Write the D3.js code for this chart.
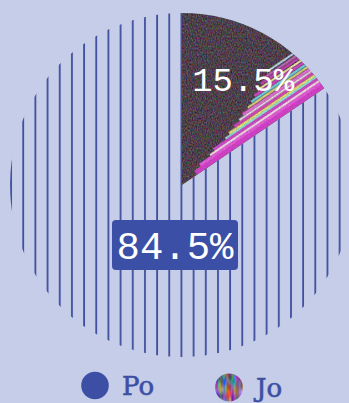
<!DOCTYPE html>
<html>
<head>
<meta charset="utf-8">
<script src="https://cdn.jsdelivr.net/npm/d3@7/dist/d3.min.js"></script>
<style>
  html, body { margin: 0; padding: 0; background: #c5cde8; }
  svg { display: block; }
</style>
</head>
<body>
<svg id="chart" width="349" height="403"></svg>
<script>
// Share of each group
const categories = ["Po", "Jo"];
const values = [84.5, 15.5];
const valueLabels = ["84.5%", "15.5%"];

const W = 349, H = 403;
const cx = 182, cy = 185, radius = 172;
const bg = "#c5cde8";
const blue = "#3c4fa4";

const svg = d3.select("#chart");
svg.append("rect").attr("width", W).attr("height", H).attr("fill", bg);

const defs = svg.append("defs");

// Vertical hatch for the large slice
const hatch = defs.append("pattern")
  .attr("id", "hatch")
  .attr("patternUnits", "userSpaceOnUse")
  .attr("width", 12.17).attr("height", 20)
  .attr("x", cx - 1);
hatch.append("rect").attr("width", 12.17).attr("height", 20).attr("fill", bg);
hatch.append("rect").attr("x", 0.1).attr("width", 1.8).attr("height", 20).attr("fill", "#3f4e9e");

// Grainy dark texture
const grain = defs.append("filter").attr("id", "grain")
  .attr("color-interpolation-filters", "sRGB")
  .attr("x", 0).attr("y", 0).attr("width", 1).attr("height", 1);
grain.append("feTurbulence").attr("type", "fractalNoise")
  .attr("baseFrequency", "0.8 0.5").attr("numOctaves", 2).attr("seed", 4);
grain.append("feColorMatrix").attr("type", "matrix")
  .attr("values", "0.55 0 0 0 0.03  0 0.5 0 0 0.0  0 0 0.55 0 0.02  0 0 0 0 1");

// Light speckle over the bright streaks
const speck = defs.append("filter").attr("id", "speck")
  .attr("color-interpolation-filters", "sRGB");
speck.append("feTurbulence").attr("type", "fractalNoise")
  .attr("baseFrequency", "0.9").attr("numOctaves", 1).attr("seed", 2).attr("result", "n");
speck.append("feColorMatrix").attr("in", "n").attr("type", "matrix")
  .attr("values", "0 0 0 0 0  0 0 0 0 0  0 0 0 0 0  -0.8 0 0 0 1.25").attr("result", "m");
speck.append("feComposite").attr("in", "SourceGraphic").attr("in2", "m").attr("operator", "in");

// Colourful streaky texture for the legend swatch
const swirl = defs.append("filter").attr("id", "swirl")
  .attr("color-interpolation-filters", "sRGB")
  .attr("x", 0).attr("y", 0).attr("width", 1).attr("height", 1);
swirl.append("feTurbulence").attr("type", "fractalNoise")
  .attr("baseFrequency", "0.22 0.07").attr("numOctaves", 2).attr("seed", 7);
swirl.append("feColorMatrix").attr("type", "matrix")
  .attr("values", "1.4 0 0 0 -0.2  0 1.3 0 0 -0.22  0 0 1.4 0 -0.15  0 0 0 0 1");

const pie = d3.pie().sortValues((a, b) => a - b).value(d => d.value);
const data = categories.map((c, i) => ({ name: c, value: values[i], label: valueLabels[i] }));
const arcs = pie(data);
const arc = d3.arc().innerRadius(0).outerRadius(radius);

const po = arcs.find(a => a.data.name === "Po");
const jo = arcs.find(a => a.data.name === "Jo");

// Po slice
const g = svg.append("g").attr("transform", `translate(${cx},${cy})`);
g.append("path").attr("d", arc(po)).attr("fill", "url(#hatch)");

// Jo slice: grainy base plus bright streaks along its trailing edge
defs.append("clipPath").attr("id", "joClip")
  .append("path").attr("d", arc(jo)).attr("transform", `translate(${cx},${cy})`);

const jg = svg.append("g").attr("clip-path", "url(#joClip)");
jg.append("rect").attr("x", cx - 5).attr("y", cy - radius - 5)
  .attr("width", radius + 10).attr("height", radius + 10)
  .attr("filter", "url(#grain)");

// In this frame the slice's trailing edge points straight up and the slice lies to the left
const sg = jg.append("g")
  .attr("transform", `translate(${cx},${cy}) rotate(${jo.endAngle * 180 / Math.PI})`);
const streaks = [
  { off: 0, w: 5, c: "#e23fd6", from: 18 },
  { off: 5, w: 3, c: "#f25fe6", from: 26 },
  { off: 8, w: 2, c: "#fde8f0", from: 40 },
  { off: 10, w: 3, c: "#d84ad0", from: 46 },
  { off: 13, w: 2, c: "#8ff0e0", from: 62 },
  { off: 15, w: 2.5, c: "#f5ef70", from: 68 },
  { off: 17.5, w: 3, c: "#e040c8", from: 76 },
  { off: 20.5, w: 2, c: "#ffffff", from: 84 },
  { off: 22.5, w: 3, c: "#f070e0", from: 90 },
  { off: 26, w: 2, c: "#e8e070", from: 98 },
  { off: 28.5, w: 2.5, c: "#70e0e8", from: 104 },
  { off: 31.5, w: 3, c: "#e048d0", from: 110 },
  { off: 35, w: 2, c: "#f7f0a8", from: 116 },
  { off: 38, w: 2.5, c: "#d040c0", from: 122 },
  { off: 41.5, w: 2, c: "#e070d8", from: 128 },
  { off: 45, w: 2, c: "#c0e0f0", from: 134 }
];
sg.append("g").attr("filter", "url(#speck)")
  .selectAll("rect").data(streaks).join("rect")
  .attr("x", d => -d.off - d.w)
  .attr("y", -(radius + 20))
  .attr("width", d => d.w)
  .attr("height", d => radius + 20 - d.from)
  .attr("fill", d => d.c);

// Value labels, drawn above both slices
const lg = svg.append("g").attr("transform", `translate(${cx},${cy})`);
const labelArc = d3.arc().innerRadius(120).outerRadius(120);
const [jx, jy] = labelArc.centroid(jo);
lg.append("text")
  .attr("x", jx + 5).attr("y", jy).attr("dy", "0.36em")
  .attr("text-anchor", "middle")
  .attr("font-family", "'Liberation Mono', monospace")
  .attr("font-size", 34).attr("fill", "#ffffff")
  .text(jo.data.label);

const px = -7, py = 60;
const poLabel = lg.append("g").attr("transform", `translate(${px},${py})`);
poLabel.append("rect").attr("x", -63).attr("y", -25).attr("width", 126).attr("height", 50)
  .attr("rx", 4).attr("fill", "#3b4fa6");
poLabel.append("text")
  .attr("dy", "0.36em").attr("text-anchor", "middle")
  .attr("font-family", "'Liberation Mono', monospace")
  .attr("font-size", 39).attr("fill", "#ffffff")
  .text(po.data.label);

// Legend
defs.append("clipPath").attr("id", "swatchClip")
  .append("circle").attr("cx", 229).attr("cy", 387.5).attr("r", 14);

const legend = [
  { name: "Po", x: 95, y: 385.5 },
  { name: "Jo", x: 229, y: 387.5 }
];
legend.forEach(l => {
  if (l.name === "Po") {
    svg.append("circle").attr("cx", l.x).attr("cy", l.y).attr("r", 13.8).attr("fill", blue);
  } else {
    svg.append("rect").attr("x", l.x - 15).attr("y", l.y - 15).attr("width", 30).attr("height", 30)
      .attr("filter", "url(#swirl)").attr("clip-path", "url(#swatchClip)");
  }
  svg.append("text")
    .attr("x", l.x + 27).attr("y", l.y + 9)
    .attr("font-family", "'DejaVu Serif', serif")
    .attr("font-size", 26).attr("fill", blue)
    .attr("stroke", blue).attr("stroke-width", 0.6)
    .text(l.name);
});
</script>
</body>
</html>
